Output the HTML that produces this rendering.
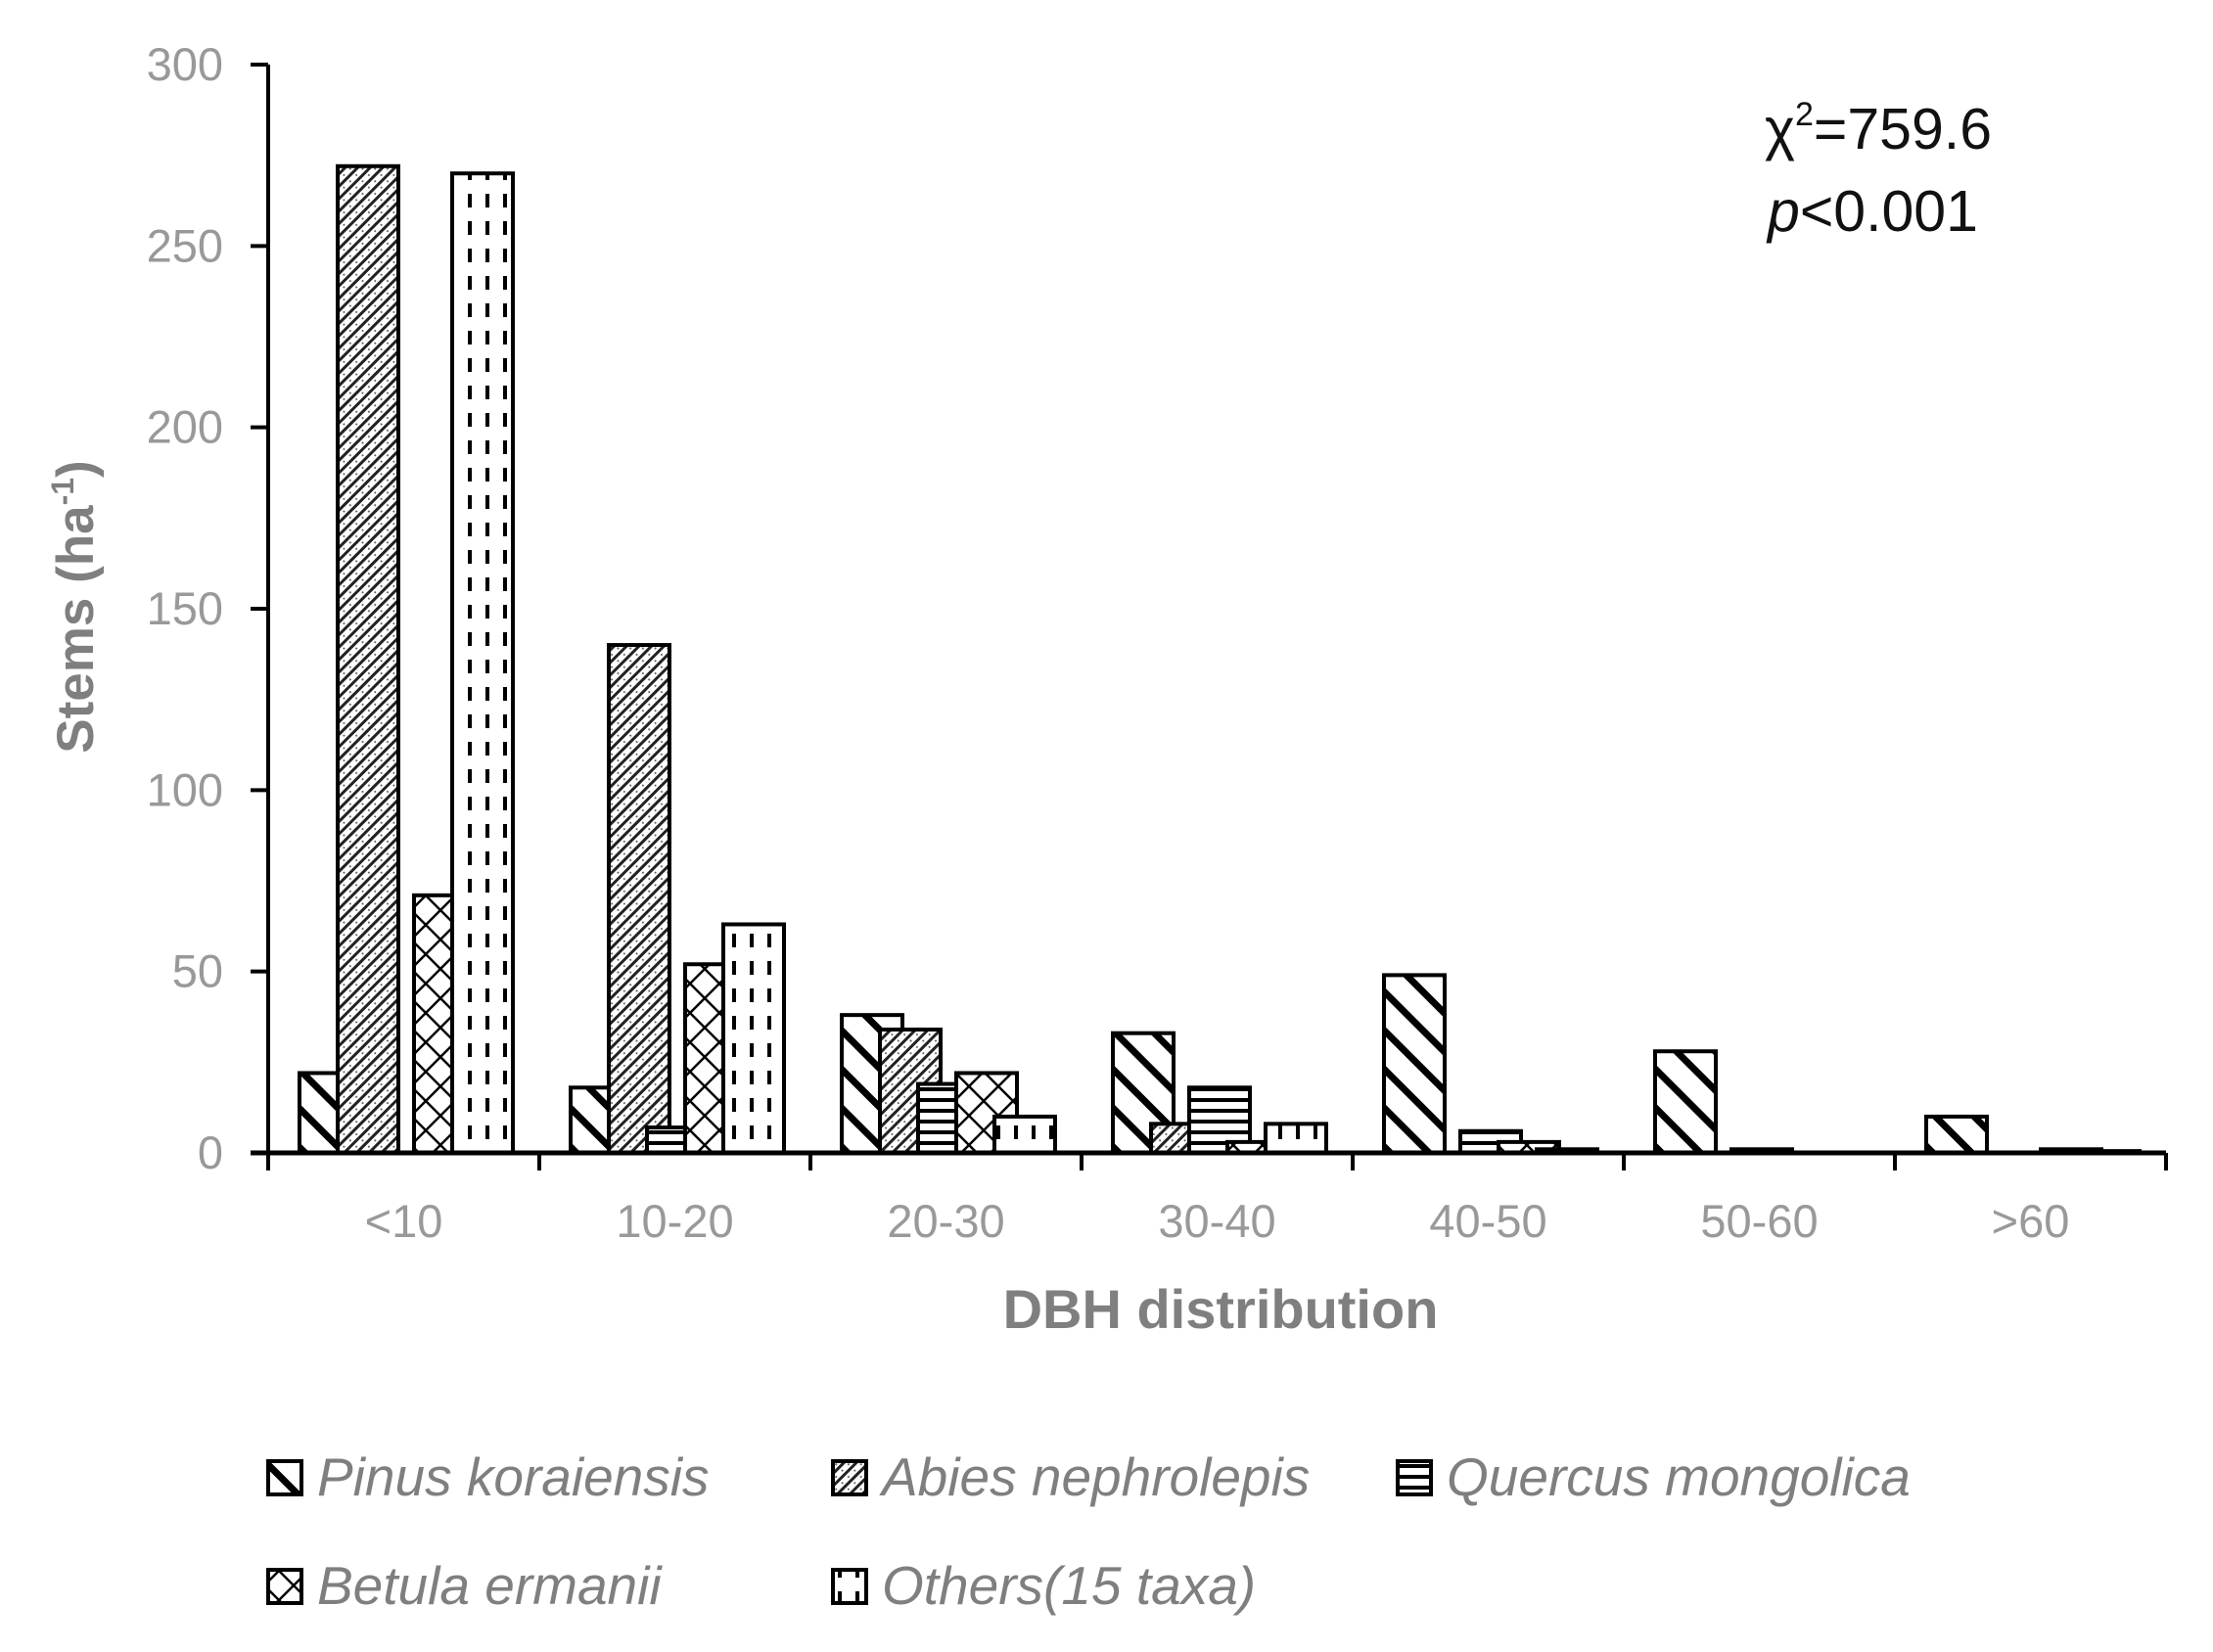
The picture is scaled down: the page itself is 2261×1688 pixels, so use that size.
<!DOCTYPE html>
<html><head><meta charset="utf-8">
<style>
html,body{margin:0;padding:0;background:#fff;}
svg{display:block;font-family:"Liberation Sans",sans-serif;}
</style></head>
<body>
<svg id="chart" width="2261" height="1688" viewBox="0 0 2261 1688" xmlns="http://www.w3.org/2000/svg">
<defs>
<pattern id="p-pinus" patternUnits="userSpaceOnUse" width="28" height="28" patternTransform="rotate(-45)">
<rect width="28" height="28" fill="#fff"/><rect x="0" y="0" width="7" height="28" fill="#000"/></pattern>
<pattern id="p-abies" patternUnits="userSpaceOnUse" width="9" height="9" patternTransform="rotate(45)">
<rect width="9" height="9" fill="#fff"/><rect x="0" y="0" width="3" height="9" fill="#222"/><circle cx="6" cy="4" r="1" fill="#555"/></pattern>
<pattern id="p-quercus" patternUnits="userSpaceOnUse" width="10" height="11">
<rect width="10" height="11" fill="#fff"/><rect x="0" y="0" width="10" height="4" fill="#000"/></pattern>
<pattern id="p-betula" patternUnits="userSpaceOnUse" width="30" height="30">
<rect width="30" height="30" fill="#fff"/><path d="M0 0L30 30M30 0L0 30" stroke="#000" stroke-width="2.5"/></pattern>
<pattern id="p-others" patternUnits="userSpaceOnUse" width="36" height="28">
<rect width="36" height="28" fill="#fff"/><rect x="10" y="2" width="4" height="14" fill="#000"/><rect x="28" y="2" width="4" height="14" fill="#000"/></pattern>
</defs>
<g id="plot"></g>
<text x="1803" y="152" font-size="59" fill="#111">χ<tspan font-size="34" dy="-24">2</tspan><tspan dy="24">=759.6</tspan></text>
<text x="1806" y="236" font-size="59" fill="#111"><tspan font-style="italic">p</tspan>&lt;0.001</text>
<text transform="translate(95,620) rotate(-90)" text-anchor="middle" font-size="53" font-weight="bold" fill="#7f7f7f">Stems (ha<tspan font-size="32" dy="-20">-1</tspan><tspan dy="20">)</tspan></text>
<text x="1247" y="1357" text-anchor="middle" font-size="56" font-weight="bold" fill="#7f7f7f">DBH distribution</text>
<g id="legend"></g>
</svg>
<script>
const categories = ["<10","10-20","20-30","30-40","40-50","50-60",">60"];
const seriesNames = ["Pinus koraiensis","Abies nephrolepis","Quercus mongolica","Betula ermanii","Others(15 taxa)"];
const pinus   = [22, 18, 38, 33, 49, 28, 10];
const abies   = [272, 140, 34, 8, 0, 0, 0];
const quercus = [0, 7, 19, 18, 6, 1, 0];
const betula  = [71, 52, 22, 3, 3, 0, 1];
const others  = [270, 63, 10, 8, 1, 0, 0.5];
const yTicks = [0, 50, 100, 150, 200, 250, 300];

const series = [pinus, abies, quercus, betula, others];
const fills = ["url(#p-pinus)","url(#p-abies)","url(#p-quercus)","url(#p-betula)","url(#p-others)"];
const NS = "http://www.w3.org/2000/svg";
const X0 = 274, X1 = 2213, Y0 = 1178, Y300 = 66;
const catW = (X1 - X0) / categories.length;
function yScale(v){ return Y0 - (v / 300) * (Y0 - Y300); }
function xCat(i){ return X0 + i * catW; }
const barW = 62, step = 39, off = 32;
const plot = document.getElementById('plot');
function mk(tag, attrs){ const e = document.createElementNS(NS, tag); for (const k in attrs) e.setAttribute(k, attrs[k]); return e; }

categories.forEach((c, i) => {
  series.forEach((s, j) => {
    const v = s[i];
    if (v <= 0) return;
    const x = xCat(i) + off + j * step;
    const y = yScale(v);
    const r = mk('rect', {x: x, y: y, width: barW, height: Y0 - y, fill: fills[j], stroke: '#000', 'stroke-width': 4});
    
    
    plot.appendChild(r);
  });
});
const ya = mk('line', {x1: X0, y1: Y300, x2: X0, y2: Y0, stroke: '#000', 'stroke-width': 4});


plot.appendChild(ya);
const xa = mk('line', {x1: X0 - 18, y1: Y0, x2: X1, y2: Y0, stroke: '#000', 'stroke-width': 5});


plot.appendChild(xa);
yTicks.forEach(t => {
  const y = yScale(t);
  const tk = mk('line', {x1: X0 - 18, y1: y, x2: X0, y2: y, stroke: '#000', 'stroke-width': 4});
  
  
  plot.appendChild(tk);
  const tx = mk('text', {x: 228, y: y + 16, 'text-anchor': 'end', 'font-size': 47, fill: '#999'});
  tx.textContent = t;
  
  
  plot.appendChild(tx);
});
for (let i = 0; i <= categories.length; i++) {
  const x = xCat(i);
  const tk = mk('line', {x1: x, y1: Y0, x2: x, y2: Y0 + 18, stroke: '#000', 'stroke-width': 4});
  
  
  plot.appendChild(tk);
}
categories.forEach((c, i) => {
  const tx = mk('text', {x: xCat(i) + catW / 2, y: 1264, 'text-anchor': 'middle', 'font-size': 47, fill: '#999'});
  tx.textContent = c;
  
  
  plot.appendChild(tx);
});
const legend = document.getElementById('legend');
const legPos = [[274,1510],[851,1510],[1428,1510],[274,1621],[851,1621]];
seriesNames.forEach((n, j) => {
  const [lx, ly] = legPos[j];
  const g = mk('g', {});
  
  
  const sw = mk('rect', {x: lx, y: ly - 17, width: 34, height: 34, fill: fills[j], stroke: '#000', 'stroke-width': 4});
  
  
  g.appendChild(sw);
  const t = mk('text', {x: lx + 50, y: ly + 18, 'font-size': 55, 'font-style': 'italic', fill: '#7f7f7f'});
  t.textContent = n;
  
  
  g.appendChild(t);
  legend.appendChild(g);
});
</script>
</body></html>
